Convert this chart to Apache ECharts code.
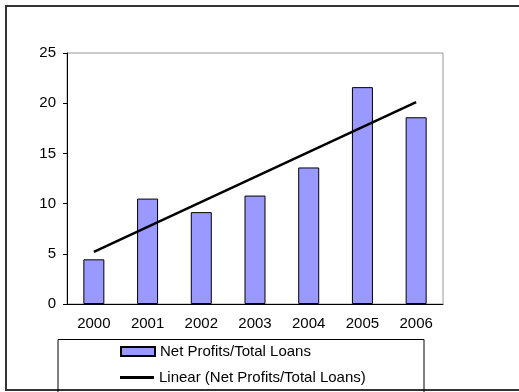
<!DOCTYPE html>
<html>
<head>
<meta charset="utf-8">
<script src="https://cdn.jsdelivr.net/npm/echarts@6/dist/echarts.min.js"></script>
<style>
html,body{margin:0;padding:0;background:#fff;}
#chart{width:519px;height:392px;}
</style>
</head>
<body>
<div id="chart"></div>
<script>
var years = ['2000','2001','2002','2003','2004','2005','2006'];
var netProfitsTotalLoans = [4.45, 10.5, 9.15, 10.8, 13.6, 21.6, 18.6];
var trendLine = [5.2, null, null, null, null, null, 20.1];
var yTicks = {min: 0, max: 25, interval: 5};
var barName = 'Net Profits/Total Loans';
var lineName = 'Linear (Net Profits/Total Loans)';

var font = 'Liberation Sans, Arial, sans-serif';
var chart = echarts.init(document.getElementById('chart'), null, {renderer: 'canvas'});
chart.setOption({
  animation: false,
  backgroundColor: '#ffffff',
  graphic: [
    {type: 'rect', z: 0, silent: true,
     shape: {x: 6, y: 6, width: 540, height: 384},
     style: {fill: 'none', stroke: '#333333', lineWidth: 2}},
    {type: 'rect', z: 0, silent: true,
     shape: {x: 58, y: 339.5, width: 366, height: 60},
     style: {fill: 'none', stroke: '#000000', lineWidth: 1}}
  ],
  grid: {left: 67, top: 53, right: 76, bottom: 88, show: true, borderColor: '#999999', borderWidth: 1, backgroundColor: 'transparent'},
  legend: [
    {
      left: 120, top: 344, padding: 0,
      itemWidth: 34, itemHeight: 9, itemGap: 5,
      textStyle: {fontFamily: font, fontSize: 15, color: '#000'},
      data: [{name: barName, icon: 'rect'}]
    },
    {
      left: 120, top: 370, padding: 0,
      itemWidth: 34, itemHeight: 3, itemGap: 5,
      textStyle: {fontFamily: font, fontSize: 15, color: '#000'},
      data: [{name: lineName, icon: 'rect', itemStyle: {color: '#000', borderWidth: 0}}]
    }
  ],
  xAxis: {
    type: 'category', data: years, boundaryGap: true,
    axisLine: {lineStyle: {color: '#000', width: 1}},
    axisTick: {length: 4, lineStyle: {color: '#000'}},
    axisLabel: {fontFamily: font, fontSize: 15, color: '#000', margin: 12},
    splitLine: {show: false}
  },
  yAxis: {
    type: 'value', min: yTicks.min, max: yTicks.max, interval: yTicks.interval,
    axisLine: {show: true, lineStyle: {color: '#000', width: 1}},
    axisTick: {show: true, length: 4, lineStyle: {color: '#000'}},
    axisLabel: {fontFamily: font, fontSize: 15, color: '#000', margin: 11},
    splitLine: {show: false}
  },
  series: [
    {name: barName, type: 'bar', data: netProfitsTotalLoans, barWidth: 21,
     itemStyle: {color: '#9999FF', borderColor: '#000', borderWidth: 1}},
    {name: lineName, type: 'line', data: trendLine, connectNulls: true,
     symbol: 'none', lineStyle: {color: '#000', width: 2.5}, itemStyle: {color: '#000'}, z: 3}
  ]
});
</script>
</body>
</html>
